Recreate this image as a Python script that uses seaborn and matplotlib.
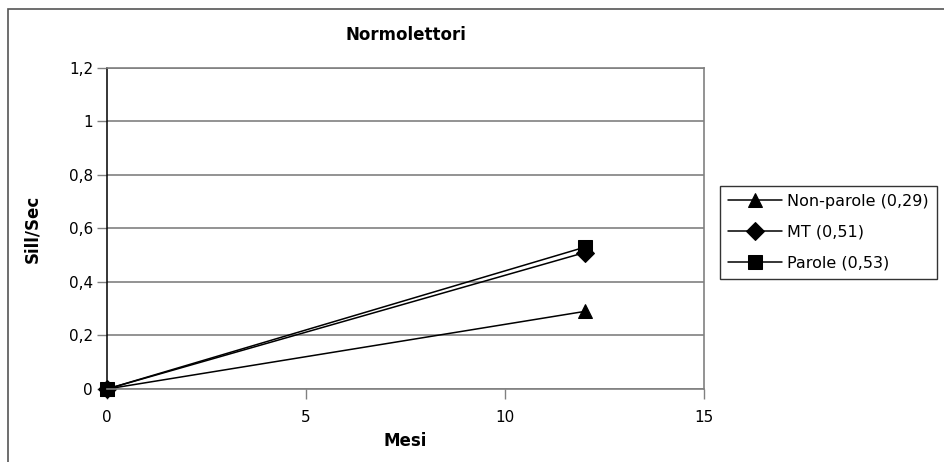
import matplotlib
matplotlib.use("Agg")
import matplotlib.pyplot as plt
import matplotlib.patches as mpatches
import seaborn as sns
import pandas as pd

# Reading speed (syllables per second) at 0 and 12 months
months = [0, 12]
series = ["Non-parole (0,29)", "MT (0,51)", "Parole (0,53)"]
non_parole = [0.0, 0.29]
mt = [0.0, 0.51]
parole = [0.0, 0.53]
y_ticks = [0, 0.2, 0.4, 0.6, 0.8, 1.0, 1.2]
y_tick_labels = ["0", "0,2", "0,4", "0,6", "0,8", "1", "1,2"]
x_ticks = [0, 5, 10, 15]

df = pd.DataFrame({
    "Mesi": months * 3,
    "Sill/Sec": non_parole + mt + parole,
    "serie": [series[0]] * 2 + [series[1]] * 2 + [series[2]] * 2,
})

sns.set_theme(style="white")
plt.rcParams["font.family"] = ["DejaVu Sans"]
plt.rcParams["text.color"] = "black"
plt.rcParams["axes.labelcolor"] = "black"
plt.rcParams["xtick.color"] = "black"
plt.rcParams["ytick.color"] = "black"

fig = plt.figure(figsize=(9.45, 4.62), dpi=100)
ax = fig.add_axes([0.1132, 0.158, 0.632, 0.695])

# outer chart frame (extends past right and bottom edges)
fig.patches.append(mpatches.Rectangle((8 / 945, -0.1), 1.1, 1 - 9 / 462 + 0.1,
                                      transform=fig.transFigure, fill=False,
                                      edgecolor="#555555", linewidth=1.2))

sns.lineplot(data=df, x="Mesi", y="Sill/Sec", hue="serie", style="serie",
             hue_order=series, style_order=series,
             palette=["black"] * 3, markers=["^", "D", "s"], dashes=False,
             markersize=9.5, linewidth=1.1, markeredgecolor="black", ax=ax)

ax.set_xlim(0, 15)
ax.set_ylim(0, 1.2)
ax.set_xticks(x_ticks)
ax.set_xticklabels([str(t) for t in x_ticks])
ax.set_yticks(y_ticks)
ax.set_yticklabels(y_tick_labels)
for m in ax.get_lines():
    m.set_clip_on(False)

ax.grid(axis="y", color="#808080", linewidth=1.2)
ax.set_axisbelow(True)
for side in ["top", "right", "bottom"]:
    ax.spines[side].set_color("#808080")
    ax.spines[side].set_linewidth(1.2)
ax.spines["left"].set_color("black")
ax.spines["left"].set_linewidth(1.1)
for s in ax.spines.values():
    s.set_visible(True)

ax.tick_params(axis="y", which="major", direction="out", length=7, width=1,
               color="#808080", labelsize=11, pad=3)
ax.tick_params(axis="x", which="major", direction="out", length=7, width=1,
               color="#808080", labelsize=11, pad=8)
ax.tick_params(bottom=True, left=True)

ax.set_xlabel("Mesi", fontsize=12, fontweight="bold", labelpad=5)
ax.set_ylabel("Sill/Sec", fontsize=12, fontweight="bold", labelpad=20)
ax.set_title("Normolettori", fontsize=12, fontweight="bold", pad=20)

leg = ax.legend(loc="upper left", bbox_to_anchor=(720 / 945, 1 - 186 / 462),
                bbox_transform=fig.transFigure, frameon=True, fancybox=False,
                edgecolor="black", fontsize=11.5, handlelength=3.4,
                labelspacing=1.0, borderpad=0.5, handletextpad=0.3,
                borderaxespad=0, title=None)
leg.get_frame().set_linewidth(1.0)

fig.savefig("out.png", dpi=100)
